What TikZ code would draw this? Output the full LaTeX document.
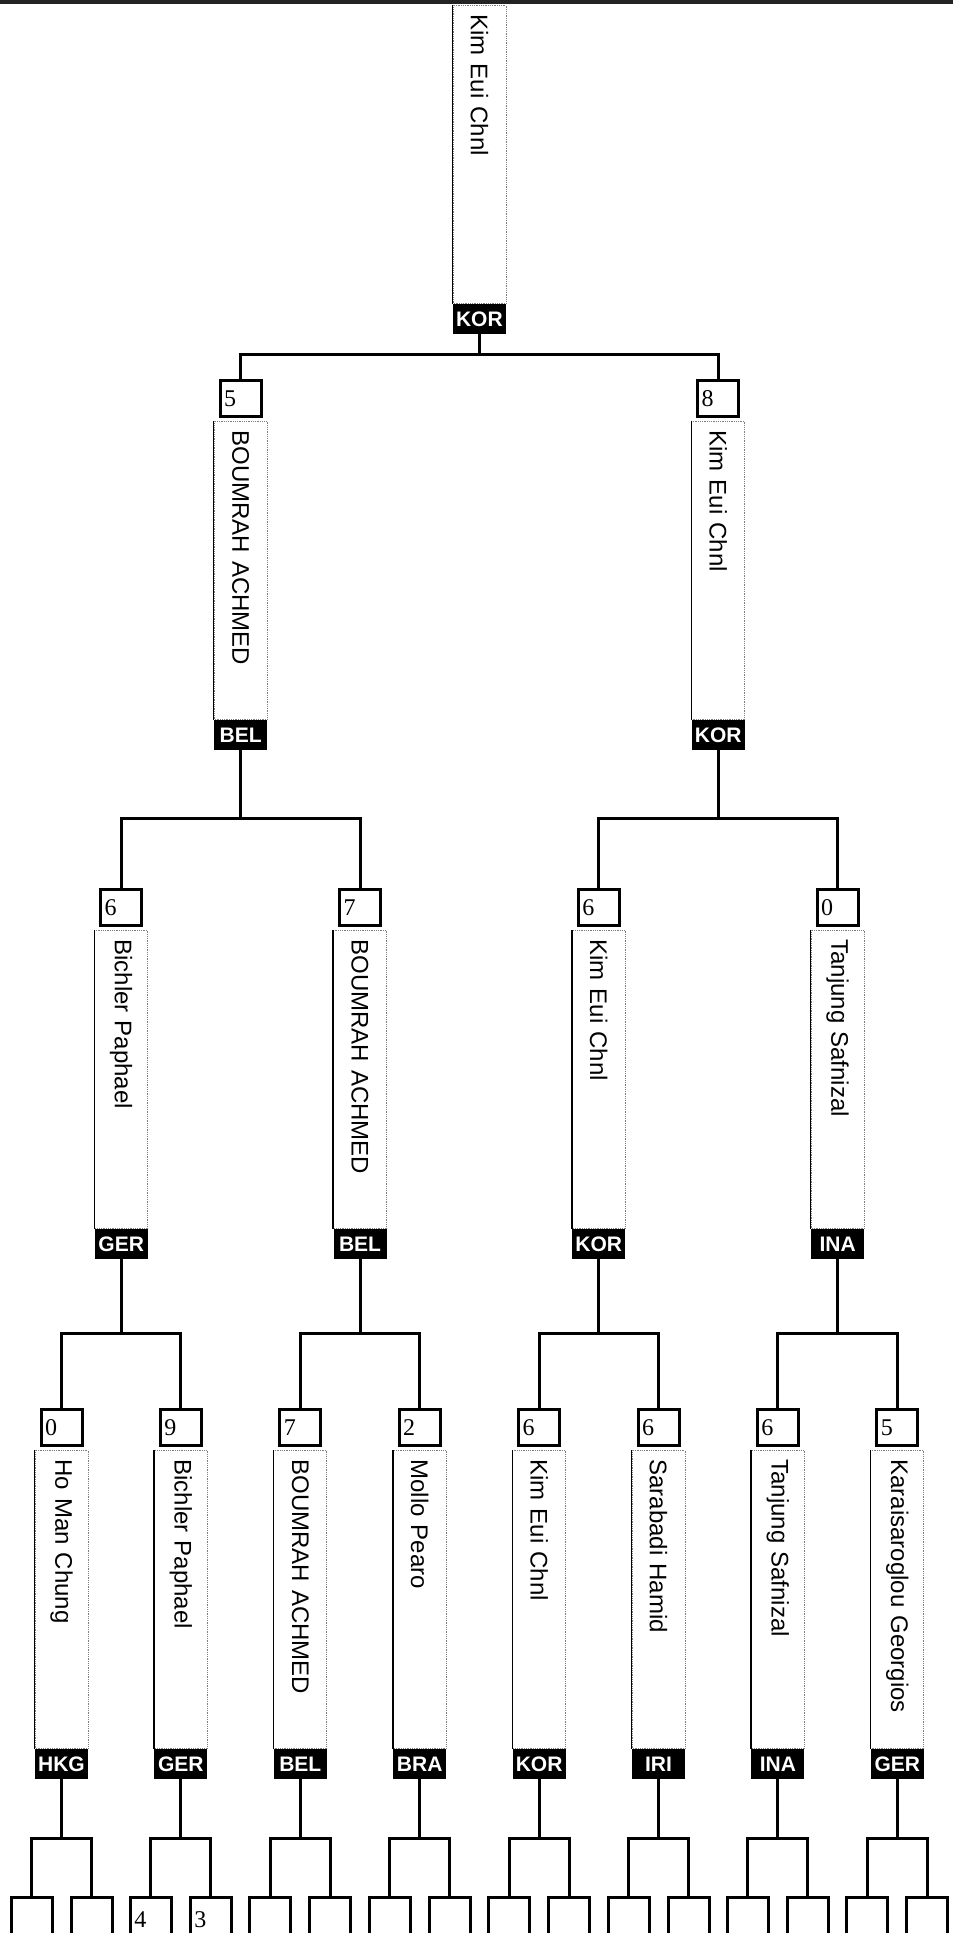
\documentclass[tikz,border=0pt]{standalone}
\usepackage{fontspec}
\setmainfont{Liberation Serif}
\setsansfont{Liberation Sans}
\definecolor{scanband}{RGB}{35, 35, 35}
\definecolor{dotgray}{RGB}{125, 125, 125}
\usetikzlibrary{positioning, calc}

\begin{document}
\begin{tikzpicture}[x=1pt, y=-1pt,
  namebox/.style={draw=dotgray, densely dotted, line width=0.8pt, fill=white, rotate=-90,
    minimum width=298pt, minimum height=53pt, text width=280pt, align=left, inner sep=0pt,
    font=\sffamily\fontsize{24}{26}\selectfont,
    append after command={(\tikzlastnode.south west) edge[draw=black, solid, line width=1.4pt] (\tikzlastnode.south east)}},
  cty/.style={fill=black, text=white, minimum width=53pt, minimum height=30pt, inner sep=0pt,
    font=\sffamily\bfseries\fontsize{21}{22}\selectfont},
  score/.style={draw, line width=3pt, fill=white, minimum width=41pt, minimum height=36pt,
    text width=33pt, align=left, inner sep=2pt, font=\fontsize{24}{26}\selectfont},
  leaf/.style={score, minimum height=45pt, anchor=north},
  link/.style={line width=3pt}]
  \useasboundingbox (0,0) rectangle (953,1933);
  \clip (0,0) rectangle (953,1933);
  \fill[scanband] (0,0) rectangle (953,4);

  % Final
  \node[namebox, anchor=west] (n1) at (479.4, 5) {Kim Eui Chnl};
  \node[cty, below=0pt of n1.east] (c1) {KOR};

  % Semi-finals
  \node[namebox, anchor=west] (n2a) at (240.6, 421) {BOUMRAH ACHMED};
  \node[cty, below=0pt of n2a.east] (c2a) {BEL};
  \node[score, above=3pt of n2a.west] (s2a) {5};
  \node[namebox, anchor=west] (n2b) at (718.2, 421) {Kim Eui Chnl};
  \node[cty, below=0pt of n2b.east] (c2b) {KOR};
  \node[score, above=3pt of n2b.west] (s2b) {8};

  \coordinate (j1) at (479.4, 354);
  \draw[link] (c1.south) -- (j1);
  \draw[link] (s2a.north) |- (j1) -| (s2b.north);

  % Quarter-finals
  \node[namebox, anchor=west] (n3a) at (121.2, 930) {Bichler Paphael};
  \node[cty, below=0pt of n3a.east] (c3a) {GER};
  \node[score, above=3pt of n3a.west] (s3a) {6};
  \node[namebox, anchor=west] (n3b) at (360.0, 930) {BOUMRAH ACHMED};
  \node[cty, below=0pt of n3b.east] (c3b) {BEL};
  \node[score, above=3pt of n3b.west] (s3b) {7};
  \node[namebox, anchor=west] (n3c) at (598.8, 930) {Kim Eui Chnl};
  \node[cty, below=0pt of n3c.east] (c3c) {KOR};
  \node[score, above=3pt of n3c.west] (s3c) {6};
  \node[namebox, anchor=west] (n3d) at (837.6, 930) {Tanjung Safnizal};
  \node[cty, below=0pt of n3d.east] (c3d) {INA};
  \node[score, above=3pt of n3d.west] (s3d) {0};

  \coordinate (j2a) at (240.6, 818);
  \coordinate (j2b) at (718.2, 818);
  \draw[link] (c2a.south) -- (j2a);
  \draw[link] (s3a.north) |- (j2a) -| (s3b.north);
  \draw[link] (c2b.south) -- (j2b);
  \draw[link] (s3c.north) |- (j2b) -| (s3d.north);

  % Round of 16
  \node[namebox, anchor=west] (n4a) at (61.5, 1450) {Ho Man Chung};
  \node[cty, below=0pt of n4a.east] (c4a) {HKG};
  \node[score, above=3pt of n4a.west] (s4a) {0};
  \node[namebox, anchor=west] (n4b) at (180.9, 1450) {Bichler Paphael};
  \node[cty, below=0pt of n4b.east] (c4b) {GER};
  \node[score, above=3pt of n4b.west] (s4b) {9};
  \node[namebox, anchor=west] (n4c) at (300.3, 1450) {BOUMRAH ACHMED};
  \node[cty, below=0pt of n4c.east] (c4c) {BEL};
  \node[score, above=3pt of n4c.west] (s4c) {7};
  \node[namebox, anchor=west] (n4d) at (419.7, 1450) {Mollo Pearo};
  \node[cty, below=0pt of n4d.east] (c4d) {BRA};
  \node[score, above=3pt of n4d.west] (s4d) {2};
  \node[namebox, anchor=west] (n4e) at (539.1, 1450) {Kim Eui Chnl};
  \node[cty, below=0pt of n4e.east] (c4e) {KOR};
  \node[score, above=3pt of n4e.west] (s4e) {6};
  \node[namebox, anchor=west] (n4f) at (658.5, 1450) {Sarabadi Hamid};
  \node[cty, below=0pt of n4f.east] (c4f) {IRI};
  \node[score, above=3pt of n4f.west] (s4f) {6};
  \node[namebox, anchor=west] (n4g) at (777.9, 1450) {Tanjung Safnizal};
  \node[cty, below=0pt of n4g.east] (c4g) {INA};
  \node[score, above=3pt of n4g.west] (s4g) {6};
  \node[namebox, anchor=west] (n4h) at (897.3, 1450) {Karaisaroglou Georgios};
  \node[cty, below=0pt of n4h.east] (c4h) {GER};
  \node[score, above=3pt of n4h.west] (s4h) {5};

  \coordinate (j3a) at (121.2, 1333);
  \coordinate (j3b) at (360.0, 1333);
  \coordinate (j3c) at (598.8, 1333);
  \coordinate (j3d) at (837.6, 1333);
  \draw[link] (c3a.south) -- (j3a);
  \draw[link] (s4a.north) |- (j3a) -| (s4b.north);
  \draw[link] (c3b.south) -- (j3b);
  \draw[link] (s4c.north) |- (j3b) -| (s4d.north);
  \draw[link] (c3c.south) -- (j3c);
  \draw[link] (s4e.north) |- (j3c) -| (s4f.north);
  \draw[link] (c3d.south) -- (j3d);
  \draw[link] (s4g.north) |- (j3d) -| (s4h.north);

  % First round (cut off at the bottom)
  \node[leaf] (b1) at (31.5, 1896) {};
  \node[leaf] (b2) at (91.5, 1896) {};
  \node[leaf] (b3) at (150.9, 1896) {4};
  \node[leaf] (b4) at (210.9, 1896) {3};
  \node[leaf] (b5) at (270.3, 1896) {};
  \node[leaf] (b6) at (330.3, 1896) {};
  \node[leaf] (b7) at (389.7, 1896) {};
  \node[leaf] (b8) at (449.7, 1896) {};
  \node[leaf] (b9) at (509.1, 1896) {};
  \node[leaf] (b10) at (569.1, 1896) {};
  \node[leaf] (b11) at (628.5, 1896) {};
  \node[leaf] (b12) at (688.5, 1896) {};
  \node[leaf] (b13) at (747.9, 1896) {};
  \node[leaf] (b14) at (807.9, 1896) {};
  \node[leaf] (b15) at (867.3, 1896) {};
  \node[leaf] (b16) at (927.3, 1896) {};

  \coordinate (j4a) at (61.5, 1838);
  \coordinate (j4b) at (180.9, 1838);
  \coordinate (j4c) at (300.3, 1838);
  \coordinate (j4d) at (419.7, 1838);
  \coordinate (j4e) at (539.1, 1838);
  \coordinate (j4f) at (658.5, 1838);
  \coordinate (j4g) at (777.9, 1838);
  \coordinate (j4h) at (897.3, 1838);
  \draw[link] (c4a.south) -- (j4a);
  \draw[link] (b1.north) |- (j4a) -| (b2.north);
  \draw[link] (c4b.south) -- (j4b);
  \draw[link] (b3.north) |- (j4b) -| (b4.north);
  \draw[link] (c4c.south) -- (j4c);
  \draw[link] (b5.north) |- (j4c) -| (b6.north);
  \draw[link] (c4d.south) -- (j4d);
  \draw[link] (b7.north) |- (j4d) -| (b8.north);
  \draw[link] (c4e.south) -- (j4e);
  \draw[link] (b9.north) |- (j4e) -| (b10.north);
  \draw[link] (c4f.south) -- (j4f);
  \draw[link] (b11.north) |- (j4f) -| (b12.north);
  \draw[link] (c4g.south) -- (j4g);
  \draw[link] (b13.north) |- (j4g) -| (b14.north);
  \draw[link] (c4h.south) -- (j4h);
  \draw[link] (b15.north) |- (j4h) -| (b16.north);
\end{tikzpicture}
\end{document}
